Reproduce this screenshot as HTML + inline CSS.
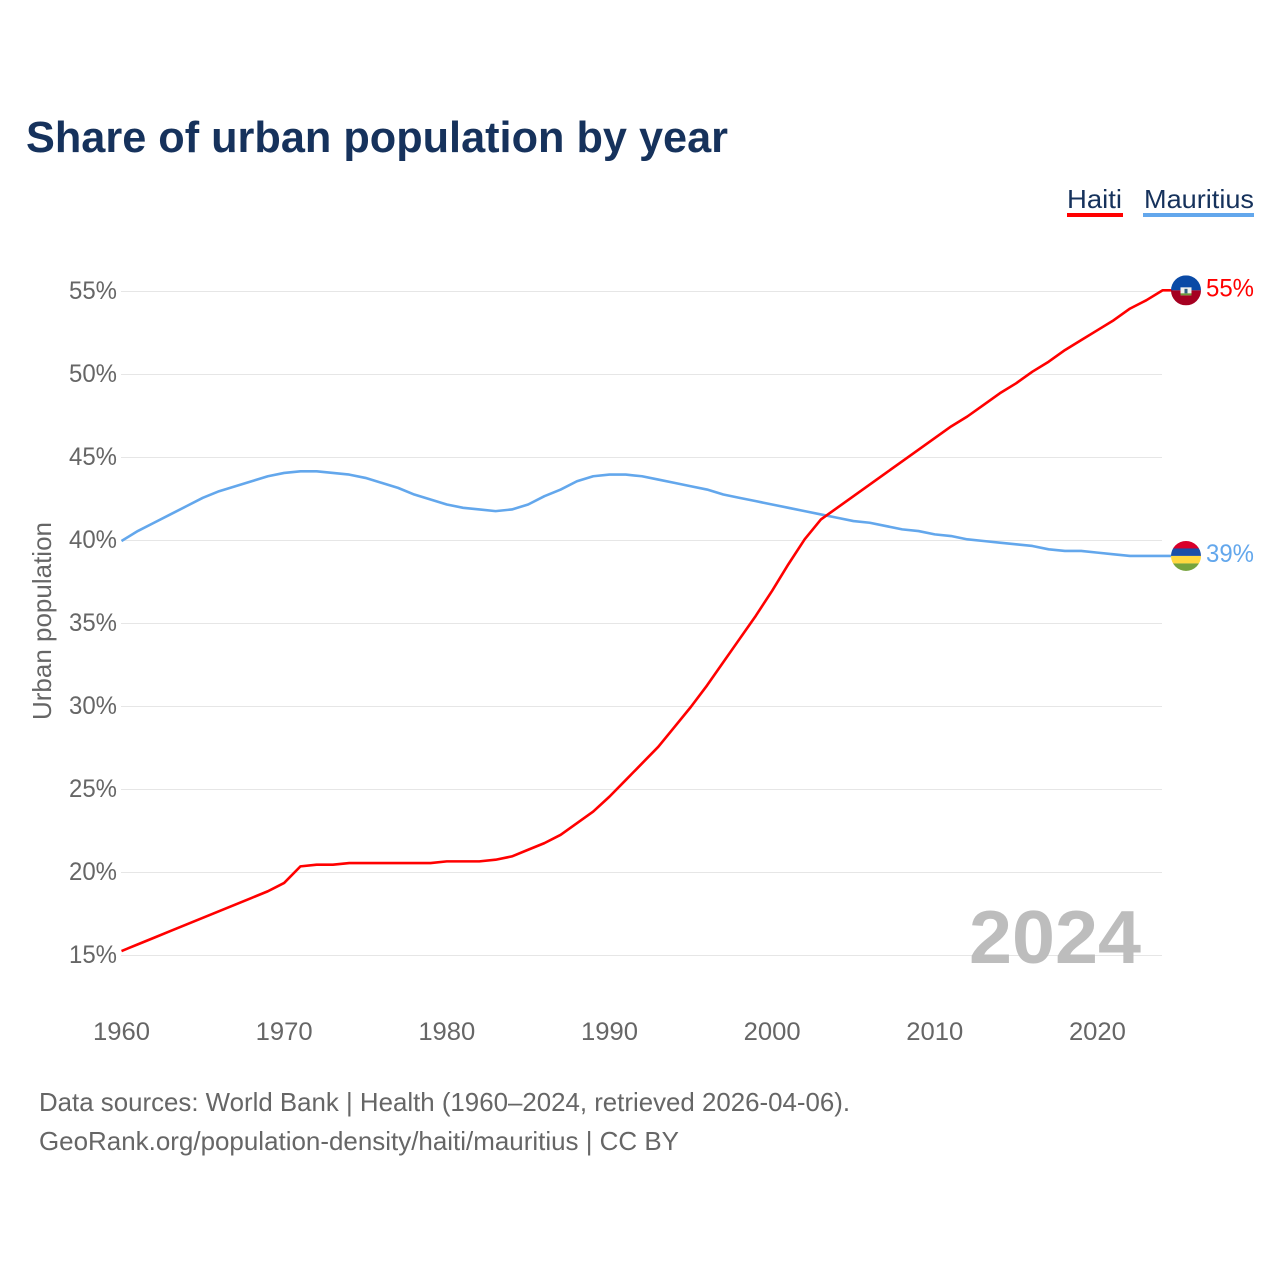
<!DOCTYPE html>
<html lang="en">
<head>
<meta charset="utf-8">
<title>Share of urban population by year</title>
<style>
html,body{margin:0;padding:0;background:#fff;width:1280px;height:1280px;overflow:hidden}
svg{display:block}
text{font-family:"Liberation Sans",sans-serif}
</style>
</head>
<body>
<svg id="chart" xmlns="http://www.w3.org/2000/svg" width="1280" height="1280" viewBox="0 0 1280 1280">
  <rect width="1280" height="1280" fill="#ffffff"/>
  <text x="26" y="152" font-size="44" font-weight="700" fill="#16325c" textLength="702" lengthAdjust="spacingAndGlyphs">Share of urban population by year</text>

  <g>
    <g>
      <text x="1067" y="208" font-size="26" fill="#16325c" textLength="55" lengthAdjust="spacingAndGlyphs">Haiti</text>
      <rect x="1067" y="213" width="56" height="4" fill="#ff0000"/>
    </g>
    <g>
      <text x="1144" y="208" font-size="26" fill="#16325c" textLength="110" lengthAdjust="spacingAndGlyphs">Mauritius</text>
      <rect x="1143" y="213" width="111" height="4" fill="#63a7ec"/>
    </g>
  </g>

  <g id="grid"></g>
  <g id="yticks"></g>
  <g id="xticks"></g>
  <text transform="translate(51,720) rotate(-90)" font-size="26" fill="#666666" textLength="198" lengthAdjust="spacingAndGlyphs">Urban population</text>
  <text x="969" y="963" font-size="75" font-weight="700" fill="#bdbdbd" textLength="172" lengthAdjust="spacingAndGlyphs">2024</text>
  <g id="series" transform="translate(0.5,0.5)"></g>

  <defs>
    <clipPath id="clip-flag"><circle cx="0" cy="0" r="15"/></clipPath>
  </defs>
  <g id="flag-haiti">
    <g clip-path="url(#clip-flag)">
      <rect x="-15" y="-15" width="30" height="15" fill="#0a4aa6"/>
      <rect x="-15" y="0" width="30" height="15" fill="#a50021"/>
      <rect x="-5.5" y="-3" width="11" height="8" fill="#f2f2ee"/>
      <rect x="-5.5" y="3" width="11" height="2" fill="#6f9a3a"/>
      <rect x="-1.5" y="-1.5" width="3" height="4.5" fill="#2f5f7f"/>
    </g>
  </g>
  <g id="flag-mauritius">
    <g clip-path="url(#clip-flag)">
      <rect x="-15" y="-15" width="30" height="8" fill="#d9002a"/>
      <rect x="-15" y="-7.5" width="30" height="7.5" fill="#1a4fa8"/>
      <rect x="-15" y="0" width="30" height="7.5" fill="#ffd840"/>
      <rect x="-15" y="7.5" width="30" height="7.5" fill="#76a33d"/>
    </g>
  </g>
  <text id="label-haiti" x="1206" font-size="25" fill="#ff0000" textLength="48" lengthAdjust="spacingAndGlyphs"></text>
  <text id="label-mauritius" x="1206" font-size="25" fill="#63a7ec" textLength="48" lengthAdjust="spacingAndGlyphs"></text>

  <text x="39" y="1111" font-size="26" fill="#666666" textLength="811" lengthAdjust="spacingAndGlyphs">Data sources: World Bank | Health (1960–2024, retrieved 2026-04-06).</text>
  <text x="39" y="1150" font-size="26" fill="#666666" textLength="640" lengthAdjust="spacingAndGlyphs">GeoRank.org/population-density/haiti/mauritius | CC BY</text>
</svg>
<script>
const years = [1960,1961,1962,1963,1964,1965,1966,1967,1968,1969,1970,1971,1972,1973,1974,1975,1976,1977,1978,1979,1980,1981,1982,1983,1984,1985,1986,1987,1988,1989,1990,1991,1992,1993,1994,1995,1996,1997,1998,1999,2000,2001,2002,2003,2004,2005,2006,2007,2008,2009,2010,2011,2012,2013,2014,2015,2016,2017,2018,2019,2020,2021,2022,2023,2024];
const haitiValues = [15.3,15.7,16.1,16.5,16.9,17.3,17.7,18.1,18.5,18.9,19.4,20.4,20.5,20.5,20.6,20.6,20.6,20.6,20.6,20.6,20.7,20.7,20.7,20.8,21.0,21.4,21.8,22.3,23.0,23.7,24.6,25.6,26.6,27.6,28.8,30.0,31.3,32.7,34.1,35.5,37.0,38.6,40.1,41.3,42.0,42.7,43.4,44.1,44.8,45.5,46.2,46.9,47.5,48.2,48.9,49.5,50.2,50.8,51.5,52.1,52.7,53.3,54.0,54.5,55.1];
const mauritiusValues = [40.0,40.6,41.1,41.6,42.1,42.6,43.0,43.3,43.6,43.9,44.1,44.2,44.2,44.1,44.0,43.8,43.5,43.2,42.8,42.5,42.2,42.0,41.9,41.8,41.9,42.2,42.7,43.1,43.6,43.9,44.0,44.0,43.9,43.7,43.5,43.3,43.1,42.8,42.6,42.4,42.2,42.0,41.8,41.6,41.4,41.2,41.1,40.9,40.7,40.6,40.4,40.3,40.1,40.0,39.9,39.8,39.7,39.5,39.4,39.4,39.3,39.2,39.1,39.1,39.1];
const yTickValues = [15,20,25,30,35,40,45,50,55];
const xTickValues = [1960,1970,1980,1990,2000,2010,2020];

const NS = 'http://www.w3.org/2000/svg';
const xScale = function (year) { return 121 + (year - 1960) * (1041 / 64); };
const yScale = function (v) { return 955.5 - (v - 15) * 16.6; };
const gridGroup = document.getElementById('grid');
const yTickGroup = document.getElementById('yticks');
const xTickGroup = document.getElementById('xticks');
const seriesGroup = document.getElementById('series');

yTickValues.forEach(function (v) {
  const line = document.createElementNS(NS, 'line');
  
  
  line.setAttribute('x1', xScale(1960));
  line.setAttribute('x2', xScale(2024));
  line.setAttribute('y1', yScale(v));
  line.setAttribute('y2', yScale(v));
  line.setAttribute('stroke', '#e6e6e6');
  line.setAttribute('stroke-width', '1');
  gridGroup.appendChild(line);

  const label = document.createElementNS(NS, 'text');
  
  
  label.setAttribute('x', 69);
  label.setAttribute('y', yScale(v) + 7.5);
  label.setAttribute('font-size', '25');
  label.setAttribute('fill', '#666666');
  label.setAttribute('textLength', '48');
  label.setAttribute('lengthAdjust', 'spacingAndGlyphs');
  label.textContent = v + '%';
  yTickGroup.appendChild(label);
});

xTickValues.forEach(function (year) {
  const label = document.createElementNS(NS, 'text');
  
  
  label.setAttribute('x', xScale(year) - 28);
  label.setAttribute('y', 1040);
  label.setAttribute('font-size', '25');
  label.setAttribute('fill', '#666666');
  label.setAttribute('textLength', '57');
  label.setAttribute('lengthAdjust', 'spacingAndGlyphs');
  label.textContent = year;
  xTickGroup.appendChild(label);
});

function linePath(values) {
  return values.map(function (v, i) {
    return (i ? 'L' : 'M') + xScale(years[i]).toFixed(2) + ' ' + yScale(v).toFixed(2);
  }).join(' ');
}

const mauritiusLine = document.createElementNS(NS, 'path');


mauritiusLine.setAttribute('d', linePath(mauritiusValues) + ' h 10');
mauritiusLine.setAttribute('fill', 'none');
mauritiusLine.setAttribute('stroke', '#63a7ec');
mauritiusLine.setAttribute('stroke-width', '2.6');
mauritiusLine.setAttribute('stroke-linejoin', 'round');
seriesGroup.appendChild(mauritiusLine);

const haitiLine = document.createElementNS(NS, 'path');


haitiLine.setAttribute('d', linePath(haitiValues) + ' h 10');
haitiLine.setAttribute('fill', 'none');
haitiLine.setAttribute('stroke', '#ff0000');
haitiLine.setAttribute('stroke-width', '2.6');
haitiLine.setAttribute('stroke-linejoin', 'round');
seriesGroup.appendChild(haitiLine);

const haitiLast = haitiValues[haitiValues.length - 1];
const mauritiusLast = mauritiusValues[mauritiusValues.length - 1];
document.getElementById('flag-haiti').setAttribute('transform', 'translate(1186,' + (yScale(haitiLast) + 0.5) + ')');
document.getElementById('flag-mauritius').setAttribute('transform', 'translate(1186,' + (yScale(mauritiusLast) + 0.5) + ')');
const haitiLabel = document.getElementById('label-haiti');
haitiLabel.setAttribute('y', yScale(haitiLast) + 6.5);
haitiLabel.textContent = Math.round(haitiLast) + '%';
const mauritiusLabel = document.getElementById('label-mauritius');
mauritiusLabel.setAttribute('y', yScale(mauritiusLast) + 6.5);
mauritiusLabel.textContent = Math.round(mauritiusLast) + '%';
</script>
</body>
</html>
